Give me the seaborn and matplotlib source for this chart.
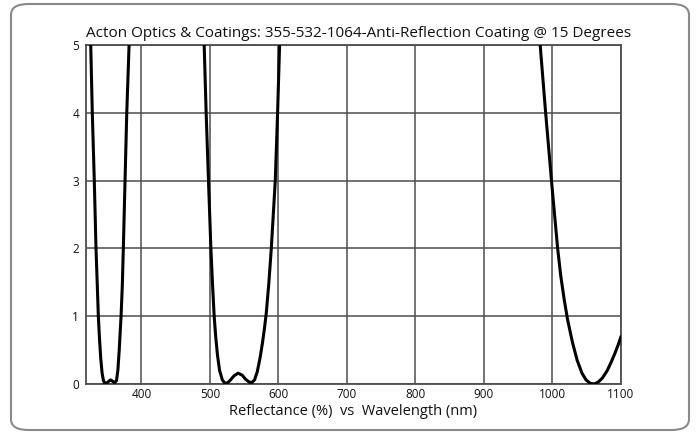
import numpy as np
import pandas as pd
import matplotlib
matplotlib.use("Agg")
import matplotlib.pyplot as plt
from matplotlib.patches import FancyBboxPatch
import seaborn as sns

# ---- data ----
band1_wl = [324.5, 325.9, 328.2, 331.1, 333.6, 335.5, 337.0, 338.8, 340.5, 342.5, 344.5, 346.5,
            349.0, 352.0, 355.0, 358.0, 361.0, 363.5, 365.5, 367.5, 369.0, 370.2, 372.0,
            373.5, 376.0, 378.5, 381.9, 382.8]
band1_r = [5.5, 5.0, 4.0, 3.0, 2.0, 1.45, 1.0, 0.65, 0.38, 0.16, 0.05, 0.01,
           0.01, 0.04, 0.06, 0.04, 0.02, 0.05, 0.2, 0.5, 0.78, 1.0, 1.45,
           2.0, 3.0, 4.0, 5.0, 5.4]

band2_wl = [490.0, 491.5, 494.4, 497.8, 501.3, 503.8, 506.1, 508.5, 511.0, 514.0, 518.0, 522.0,
            526.0, 530.0, 535.0, 541.0, 547.0, 552.0, 557.0, 561.0, 565.0, 569.0, 573.0,
            576.5, 579.5, 582.2, 586.0, 589.5, 595.3, 598.7, 601.6, 602.5]
band2_r = [5.5, 5.0, 4.0, 3.0, 2.0, 1.45, 1.0, 0.68, 0.42, 0.2, 0.06, 0.01,
           0.02, 0.06, 0.12, 0.16, 0.13, 0.07, 0.03, 0.02, 0.06, 0.18, 0.38,
           0.6, 0.82, 1.05, 1.5, 2.0, 3.0, 4.0, 5.0, 5.4]

band3_wl = [977.5, 982.0, 990.0, 998.5, 1007.5, 1012.0, 1017.0, 1022.0, 1029.0, 1036.0, 1043.0,
            1049.0, 1055.0, 1061.0, 1067.0, 1073.0, 1080.0, 1086.0, 1091.0, 1096.0, 1100.0]
band3_r = [5.5, 5.0, 4.0, 3.0, 2.0, 1.6, 1.25, 0.95, 0.62, 0.35, 0.16,
           0.06, 0.01, 0.0, 0.03, 0.09, 0.2, 0.33, 0.45, 0.58, 0.70]

x_ticks = [400, 500, 600, 700, 800, 900, 1000, 1100]
y_ticks = [0, 1, 2, 3, 4, 5]
title = "Acton Optics & Coatings: 355-532-1064-Anti-Reflection Coating @ 15 Degrees"
xlabel = "Reflectance (%)  vs  Wavelength (nm)"

sns.set_style("white")
plt.rcParams['font.family'] = ['Open Sans', 'DejaVu Sans']

fig = plt.figure(figsize=(6.97, 4.33), dpi=100)
fig.patch.set_facecolor("white")

# rounded outer frame
frame = FancyBboxPatch((11 / 697, 3 / 433), 678 / 697, 426 / 433,
                       boxstyle="round,pad=0,rounding_size=0.025",
                       transform=fig.transFigure, facecolor="none",
                       edgecolor="#8a8a8a", linewidth=1.5, zorder=0)
fig.patches.append(frame)

ax = fig.add_axes([86 / 697, 1 - 384 / 433, (621 - 86) / 697, (384 - 45) / 433])
ax.set_facecolor("none")
ax.set_zorder(2)

for wl, r in [(band1_wl, band1_r), (band2_wl, band2_r), (band3_wl, band3_r)]:
    df = pd.DataFrame({"wl": wl, "r": r})
    sns.lineplot(data=df, x="wl", y="r", ax=ax, color="black", linewidth=2.2,
                 sort=False, estimator=None, zorder=3)
for ln in ax.lines:
    ln.set_solid_joinstyle("round")
    ln.set_solid_capstyle("round")

ax.set_xlim(319, 1100)
ax.set_ylim(0, 5)
ax.set_xticks(x_ticks)
ax.set_yticks(y_ticks)
ax.grid(True, color="#4d4d4d", linewidth=1.1)
for s in ax.spines.values():
    s.set_color("#4d4d4d")
    s.set_linewidth(1.3)
ax.tick_params(axis="both", length=0, labelsize=8.5, colors="#111111")
ax.tick_params(axis="x", pad=3)
ax.tick_params(axis="y", pad=5)
ax.set_xlabel(xlabel, fontsize=10.5, labelpad=2, color="#111111")
ax.set_ylabel("")
ax.text(0.0, 1.012, title, transform=ax.transAxes, ha="left", va="bottom",
        fontsize=11, color="#111111")

fig.savefig("out.png", dpi=100)
